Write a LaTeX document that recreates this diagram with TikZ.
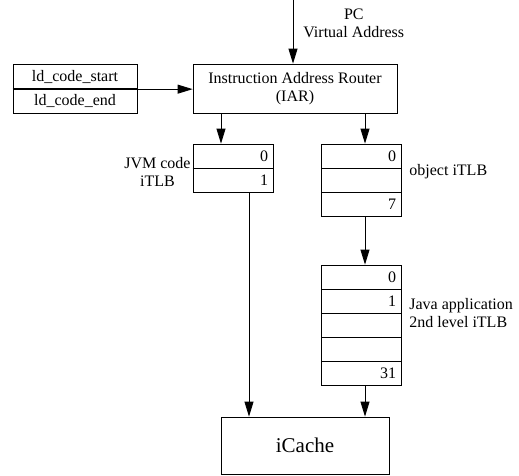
\documentclass[tikz,border=0pt]{standalone}
\usepackage{fontspec}
\setmainfont{Liberation Serif}
\usetikzlibrary{arrows.meta}

\begin{document}
\begin{tikzpicture}[x=1pt,y=-1pt,>={Triangle[length=15pt,width=9pt]},line width=0.8pt,
    every node/.style={font=\fontsize{16}{18}\selectfont},
    tlbrow/.style={rectangle,draw,line width=0.8pt,minimum height=24pt,inner ysep=0pt,inner xsep=5pt,text width=70pt,align=right},
    ldrow/.style={rectangle,draw,line width=0.8pt,minimum width=124pt,minimum height=24.5pt,inner sep=0pt},
    unitbox/.style={rectangle,draw,line width=0.8pt,inner sep=0pt,align=center},
    tag/.style={inner sep=0pt}]
  \useasboundingbox (0,0) rectangle (519,475);

  % address sources
  \coordinate (pc) at (293,0);
  \node[tag,align=center,anchor=west] (pclabel) at (303,23) {PC\\Virtual Address};
  \node[ldrow] (ldstart) at (75,76.5) {ld\_code\_start};
  \node[ldrow] (ldend) at (75,101) {ld\_code\_end};
  \draw[line width=1.6pt] (ldstart.south west) -- (ldstart.south east);
  \node[unitbox,minimum width=204pt,minimum height=49pt] (iar) at (295,88.5) {Instruction Address Router\\(IAR)};

  % JVM code iTLB
  \node[tlbrow] (jvm0) at (233,156) {0};
  \node[tlbrow] (jvm1) at (233,180) {1};
  \draw[line width=1.4pt] (jvm0.south west) -- (jvm0.south east);
  \node[tag,align=center,anchor=east] (jvmlabel) at (191,172) {JVM code\\iTLB};

  % object iTLB
  \node[tlbrow] (obj0) at (361,156) {0};
  \node[tlbrow] (obj1) at (361,180) {};
  \node[tlbrow] (obj2) at (361,204) {7};
  \node[tag,anchor=west] (objlabel) at (409,172) {object iTLB};

  % Java application 2nd level iTLB
  \node[tlbrow] (java0) at (361,277) {0};
  \node[tlbrow] (java1) at (361,301) {1};
  \node[tlbrow] (java2) at (361,325) {};
  \node[tlbrow] (java3) at (361,349) {};
  \node[tlbrow] (java4) at (361,373) {31};
  \node[tag,align=left,anchor=west] (javalabel) at (409,313) {Java application\\2nd level iTLB};

  \node[unitbox,minimum width=168pt,minimum height=57pt,font=\fontsize{21}{24}\selectfont] (icache) at (305,445.5) {iCache};

  % connectors
  \draw[->] (pc) -- (pc |- iar.north);
  \draw[->] (ldstart.south east) -- (ldstart.south east -| iar.west);
  \draw[->] ([xshift=-12pt]jvm0.north |- iar.south) -- ([xshift=-12pt]jvm0.north);
  \draw[->] ([xshift=4pt]obj0.north |- iar.south) -- ([xshift=4pt]obj0.north);
  \draw[->] ([xshift=16pt]jvm1.south) -- ([xshift=16pt]jvm1.south |- icache.north);
  \draw[->] ([xshift=4pt]obj2.south) -- ([xshift=4pt]java0.north);
  \draw[->] ([xshift=4pt]java4.south) -- ([xshift=4pt]java4.south |- icache.north);
\end{tikzpicture}
\end{document}
